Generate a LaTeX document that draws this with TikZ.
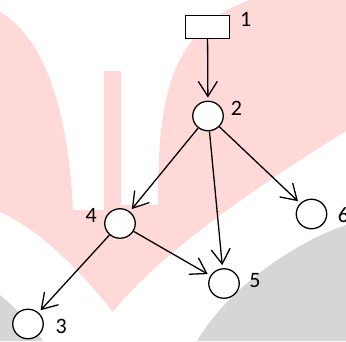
\documentclass[tikz,border=0pt]{standalone}
\usepackage{fontspec}
\setmainfont{Carlito}
\usetikzlibrary{arrows.meta,shapes.geometric}
\definecolor{pinkbg}{RGB}{255,216,216}
\definecolor{graybg}{RGB}{214,214,214}
\begin{document}
\begin{tikzpicture}[x=1pt,y=-1pt,
  vtx/.style={draw,ellipse,line width=1.3pt,fill=white,minimum width=30.5pt,minimum height=29.5pt,inner sep=0pt},
  box/.style={draw,rectangle,line width=1.3pt,fill=white,minimum width=44pt,minimum height=23pt,inner sep=0pt},
  lbl/.style={font=\fontsize{22}{22}\selectfont,inner sep=0pt},
  arr/.style={line width=1.3pt,-{Straight Barb[length=15pt,width=19pt]},shorten >=3pt}]
\useasboundingbox (0,0) rectangle (346,341);
\clip (0,0) rectangle (346,341);
% background watermark
\fill[pinkbg] (0,12) .. controls (40,35) and (68,100) .. (73,210)
  -- (104,210) -- (104,71) -- (121,71) -- (121,205) -- (158,205)
  .. controls (158,110) and (165,30) .. (250,0)
  -- (346,0) -- (346,131)
  .. controls (300,160) and (170,240) .. (113,312)
  .. controls (80,270) and (40,230) .. (0,212) -- cycle;
\fill[graybg] (0,295) .. controls (15,308) and (30,322) .. (43,341) -- (0,341) -- cycle;
\fill[graybg] (346,225) .. controls (300,240) and (230,285) .. (197,341) -- (346,341) -- cycle;
% nodes
\node[box] (n1) at (207.5,27) {};
\node[vtx] (n2) at (208,116) {};
\node[vtx] (n4) at (120,223.5) {};
\node[vtx] (n6) at (311.5,214) {};
\node[vtx] (n5) at (224,283.5) {};
\node[vtx] (n3) at (28,324) {};
% labels
\node[lbl] (t1) at (245.7,19) {1};
\node[lbl] (t2) at (236.5,108) {2};
\node[lbl] (t4) at (91.3,215.5) {4};
\node[lbl] (t5) at (255,281) {5};
\node[lbl] (t3) at (61.3,326.7) {3};
\node[lbl] (t6) at (343.5,215.5) {6};
% edges
\draw[arr] (n1) -- (n2);
\draw[arr] (n2) -- (n4);
\draw[arr] (n2) -- (n5);
\draw[arr] (n2) -- (n6);
\draw[arr] (n4) -- (n5);
\draw[arr] (n4) -- (n3);
\end{tikzpicture}
\end{document}
